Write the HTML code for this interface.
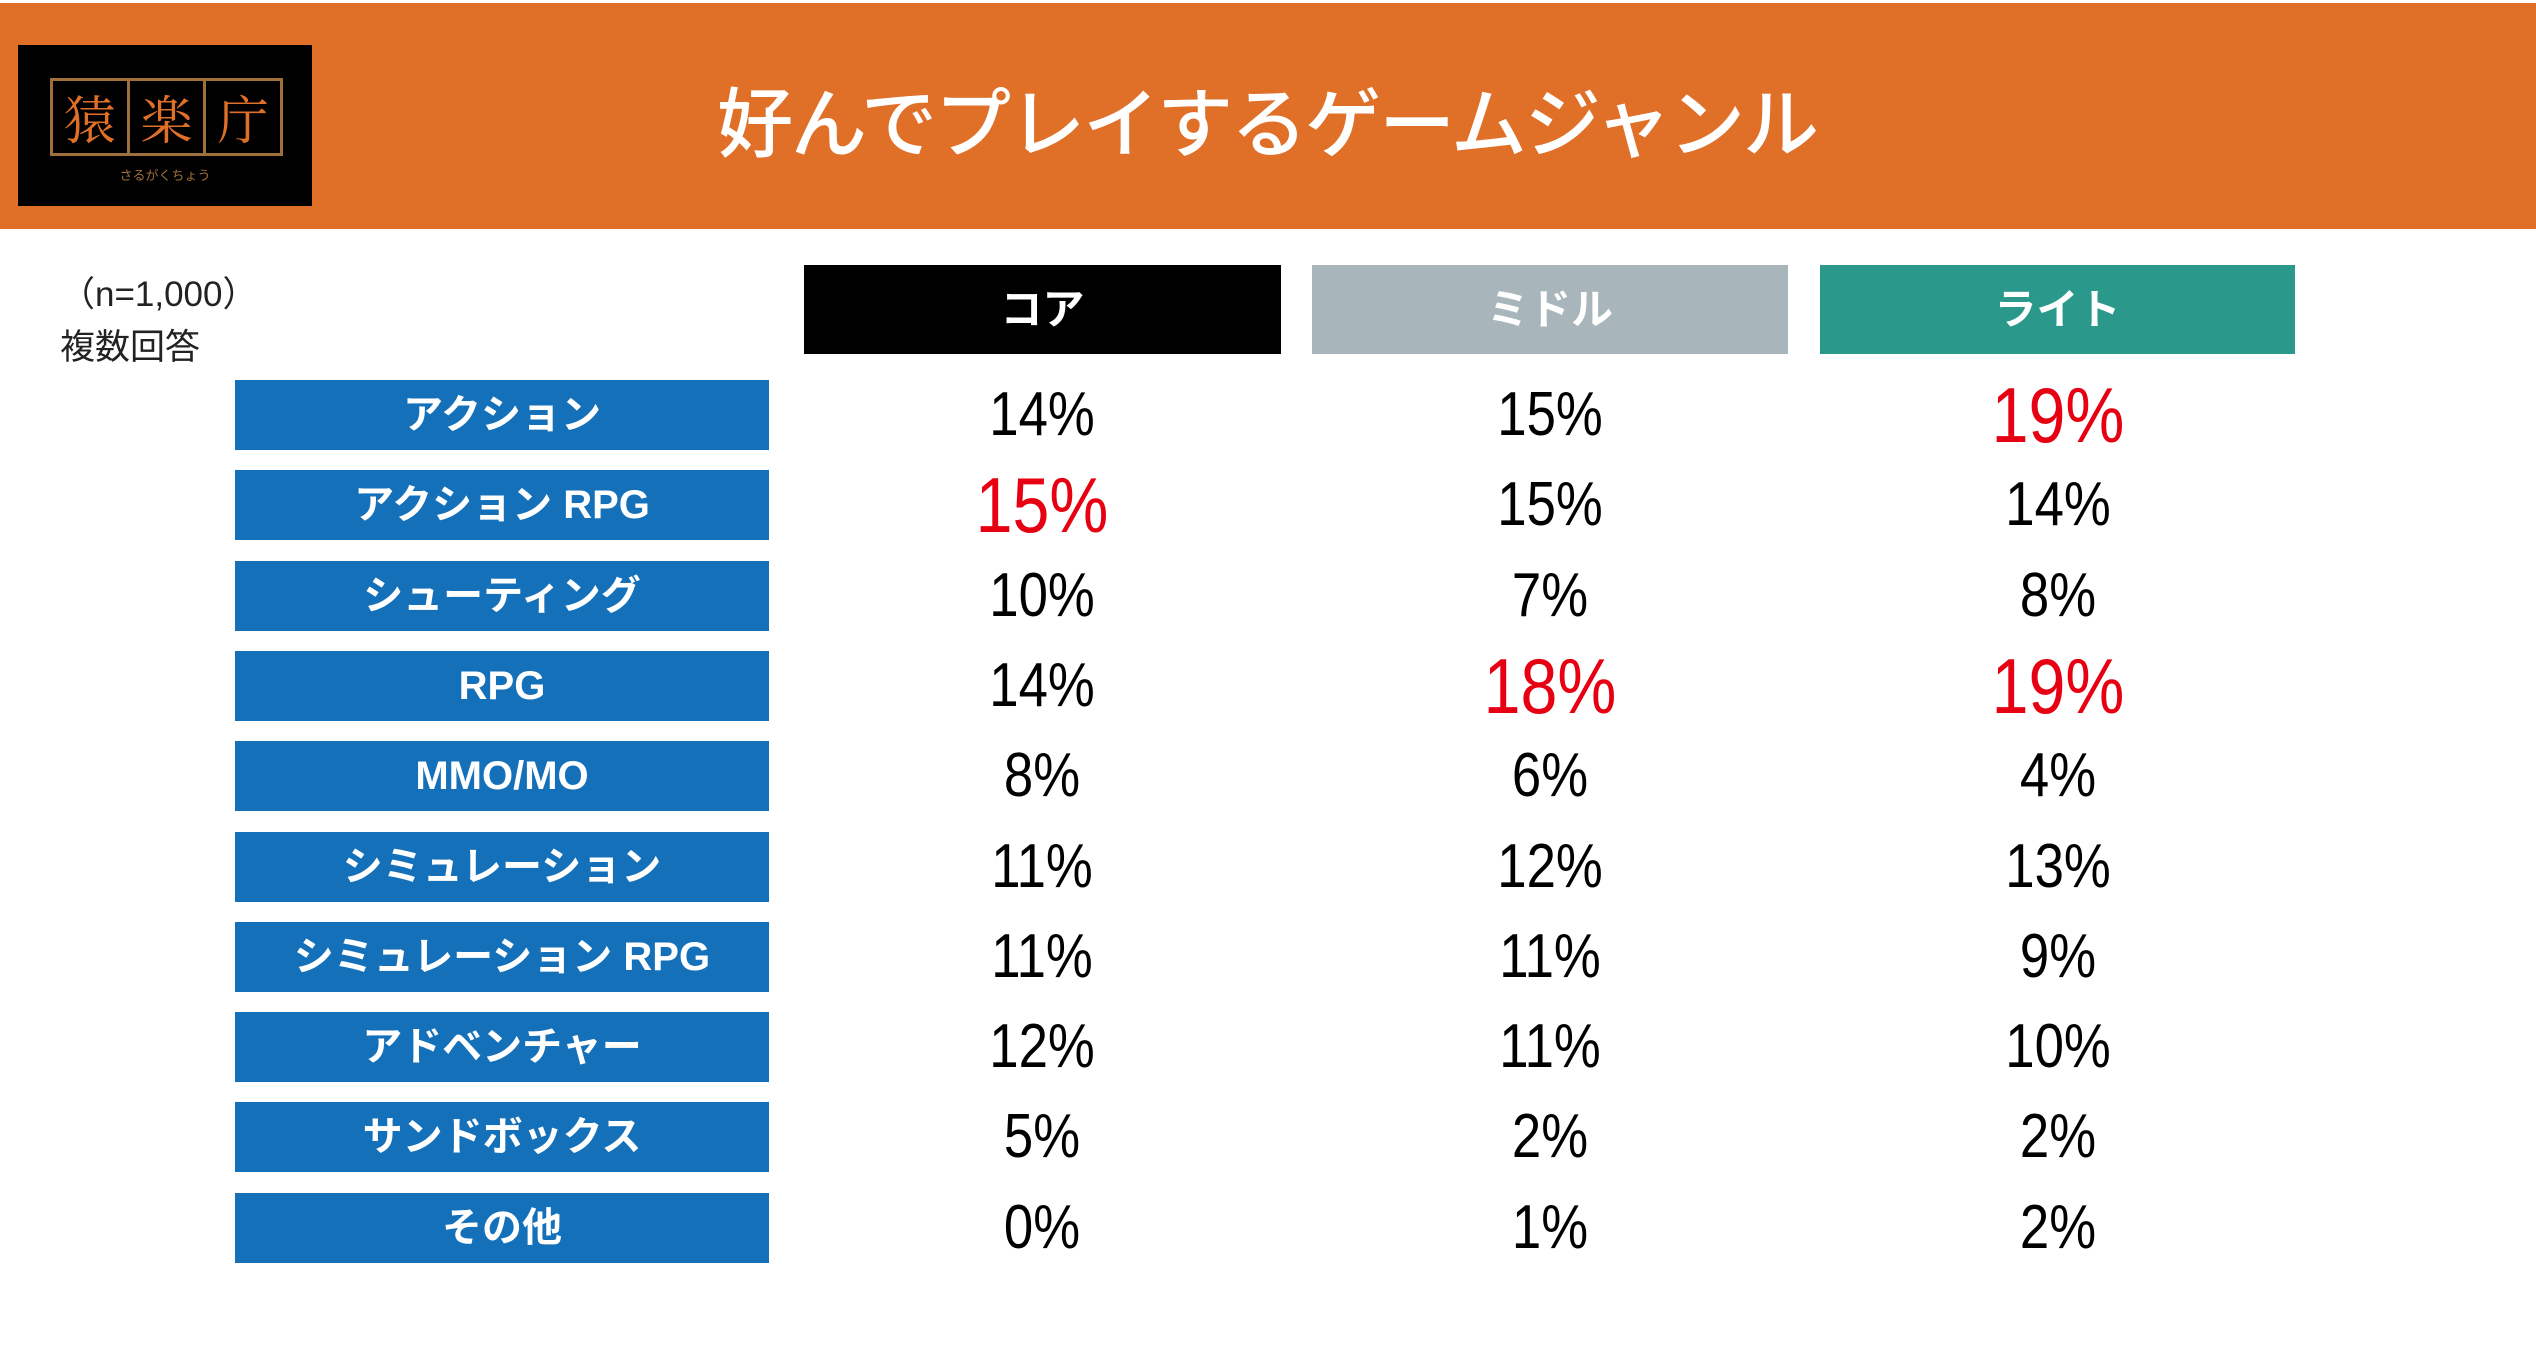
<!DOCTYPE html>
<html><head><meta charset="utf-8"><style>
*{margin:0;padding:0;box-sizing:border-box}
body{width:2536px;height:1349px;background:#fff;position:relative;overflow:hidden;font-family:"Liberation Sans","Noto Sans CJK JP",sans-serif}
.band{position:absolute;left:0;top:3px;width:2536px;height:226px;background:#e07028}
.logo{position:absolute;left:18px;top:45px;width:294px;height:161px;background:#000}
.lbox{position:absolute;left:32px;top:33px;width:233px;height:78px;border:3px solid #a0703a;display:flex}
.lbox div{flex:1;border-right:3px solid #a0703a;color:#e07028;font-size:52px;text-align:center;line-height:72px;font-family:"Noto Serif CJK SC",serif}
.lbox div:last-child{border-right:none}
.lsub{position:absolute;left:0;width:294px;top:120px;text-align:center;color:#a0703a;font-size:13px}
.title{position:absolute;left:600px;width:1334px;top:76px;text-align:center;color:#fff;font-size:76px;line-height:100px;font-weight:500;letter-spacing:-2px}
.note{position:absolute;left:60px;color:#222;font-size:35px;line-height:40px}
.hd{position:absolute;top:265px;height:89px;color:#fff;font-size:42px;font-weight:bold;text-align:center;line-height:89px}
.lab{position:absolute;left:235px;width:534px;height:70px;background:#1570ba;color:#fff;font-size:40px;font-weight:bold;text-align:center;line-height:70px}
.v{position:absolute;width:400px;text-align:center;font-size:62px;line-height:70px;color:#000;transform:scaleX(0.85)}
.r{color:#e60012;font-size:78px}
</style></head><body>
<div class="band"></div>
<div class="logo"><div class="lbox"><div>猿</div><div>楽</div><div>庁</div></div><div class="lsub">さるがくちょう</div></div>
<div class="title">好んでプレイするゲームジャンル</div>
<div class="note" style="top:275px">（n=1,000）</div>
<div class="note" style="top:328px">複数回答</div>
<div class="hd" style="left:804px;width:477px;background:#000">コア</div>
<div class="hd" style="left:1312px;width:476px;background:#a8b5bb">ミドル</div>
<div class="hd" style="left:1820px;width:475px;background:#2a988a">ライト</div>

<div class="lab" style="top:380px">アクション</div>
<div class="lab" style="top:470px">アクション RPG</div>
<div class="lab" style="top:561px">シューティング</div>
<div class="lab" style="top:651px">RPG</div>
<div class="lab" style="top:741px">MMO/MO</div>
<div class="lab" style="top:832px">シミュレーション</div>
<div class="lab" style="top:922px">シミュレーション RPG</div>
<div class="lab" style="top:1012px">アドベンチャー</div>
<div class="lab" style="top:1102px">サンドボックス</div>
<div class="lab" style="top:1193px">その他</div>

<div class="v" style="left:842px;top:380px">14%</div><div class="v" style="left:1350px;top:380px">15%</div><div class="v r" style="left:1858px;top:380px">19%</div>
<div class="v r" style="left:842px;top:470px">15%</div><div class="v" style="left:1350px;top:470px">15%</div><div class="v" style="left:1858px;top:470px">14%</div>
<div class="v" style="left:842px;top:561px">10%</div><div class="v" style="left:1350px;top:561px">7%</div><div class="v" style="left:1858px;top:561px">8%</div>
<div class="v" style="left:842px;top:651px">14%</div><div class="v r" style="left:1350px;top:651px">18%</div><div class="v r" style="left:1858px;top:651px">19%</div>
<div class="v" style="left:842px;top:741px">8%</div><div class="v" style="left:1350px;top:741px">6%</div><div class="v" style="left:1858px;top:741px">4%</div>
<div class="v" style="left:842px;top:832px">11%</div><div class="v" style="left:1350px;top:832px">12%</div><div class="v" style="left:1858px;top:832px">13%</div>
<div class="v" style="left:842px;top:922px">11%</div><div class="v" style="left:1350px;top:922px">11%</div><div class="v" style="left:1858px;top:922px">9%</div>
<div class="v" style="left:842px;top:1012px">12%</div><div class="v" style="left:1350px;top:1012px">11%</div><div class="v" style="left:1858px;top:1012px">10%</div>
<div class="v" style="left:842px;top:1102px">5%</div><div class="v" style="left:1350px;top:1102px">2%</div><div class="v" style="left:1858px;top:1102px">2%</div>
<div class="v" style="left:842px;top:1193px">0%</div><div class="v" style="left:1350px;top:1193px">1%</div><div class="v" style="left:1858px;top:1193px">2%</div>
</body></html>
